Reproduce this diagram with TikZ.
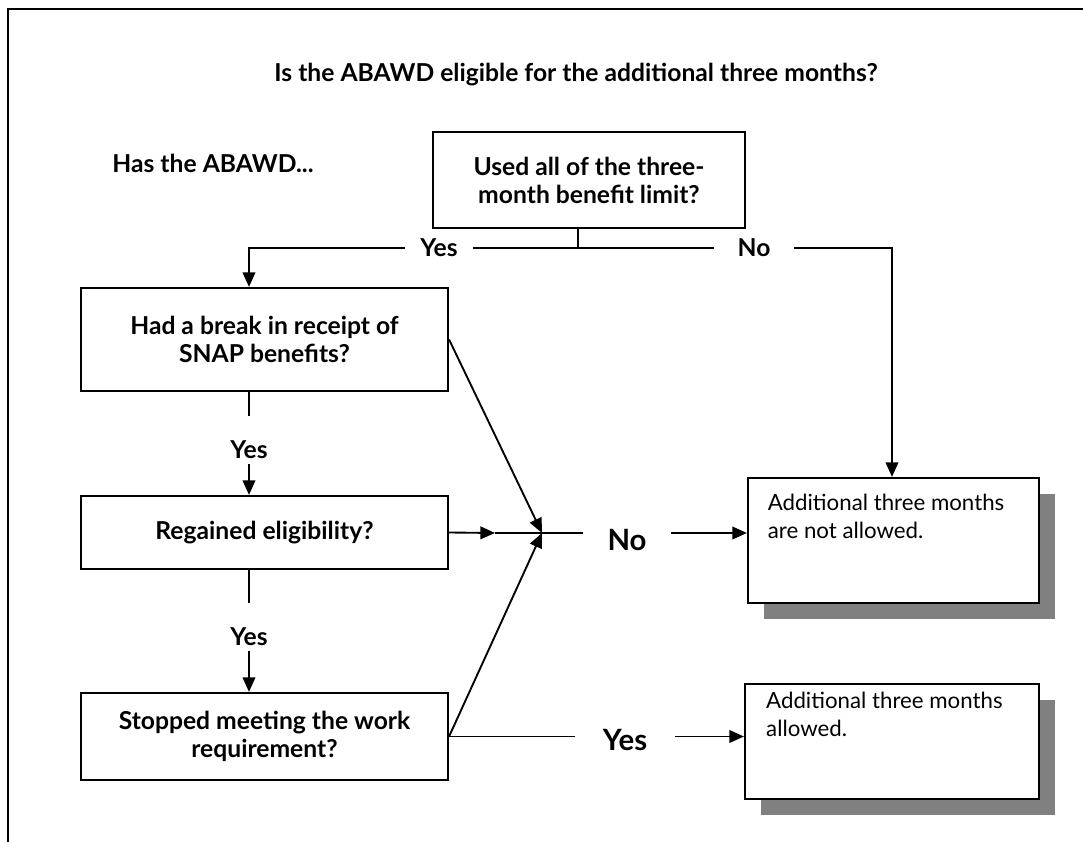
\documentclass[tikz,border=0pt]{standalone}
\usepackage{fontspec}
\setmainfont{Lato}
\usetikzlibrary{arrows.meta,shadows}

\begin{document}
\begin{tikzpicture}[x=0.75pt, y=-0.75pt, line width=1.4pt,
    question/.style={draw, line width=1.6pt, align=center, inner sep=0pt,
      font=\bfseries\fontsize{18.5}{21}\selectfont},
    outcome/.style={draw, line width=1.6pt, fill=white, inner sep=0pt,
      general shadow={fill=black!50, shadow xshift=12pt, shadow yshift=-12pt}},
    answer/.style={font=\bfseries\fontsize{18.5}{21}\selectfont, inner ysep=0pt},
    bigans/.style={font=\bfseries\fontsize{22}{24}\selectfont, inner ysep=0pt},
    result/.style={align=left, anchor=north west, inner sep=0pt,
      font=\fontsize{16.7}{21}\selectfont},
    arr/.style={-{Triangle[length=11pt, width=9.5pt]}}]
  \useasboundingbox (0,0) rectangle (1083,842);
  \draw[line width=1.8pt] (8,842) -- (8,9) -- (1083,9);

  \node[font=\bfseries\fontsize{18.5}{21}\selectfont] (title) at (576,75) {Is the ABAWD eligible for the additional three months?};
  \node[font=\bfseries\fontsize{18.5}{21}\selectfont] (intro) at (213,163) {Has the ABAWD...};

  \node[question, minimum width=234pt, minimum height=72pt] (qused) at (589,180) {Used all of the three-\\month benefit limit?};
  \node[question, minimum width=275.25pt, minimum height=77.25pt] (qbreak) at (264.5,339.5) {Had a break in receipt of\\SNAP benefits?};
  \node[question, minimum width=275.25pt, minimum height=54.75pt] (qregain) at (264.5,532.5) {Regained eligibility?};
  \node[question, minimum width=275.25pt, minimum height=65.25pt] (qstop) at (264.5,736.5) {Stopped meeting the work\\requirement?};

  \node[outcome, minimum width=218.25pt, minimum height=93.75pt] (rno) at (893.5,540.5) {};
  \node[outcome, minimum width=220.5pt, minimum height=86.25pt] (ryes) at (892,741.5) {};
  \node[result] (rnotext) at ([xshift=15pt, yshift=-12pt]rno.north west) {Additional three months\\are not allowed.};
  \node[result] (ryestext) at ([xshift=16pt, yshift=-6pt]ryes.north west) {Additional three months\\allowed.};

  \coordinate (split) at (578,248);
  \coordinate (lturn) at (249,248);
  \coordinate (rturn) at (892,248);
  \coordinate (join) at (495,533);
  \coordinate (merge) at (542,533);

  \node[answer, inner xsep=11pt] (yes1) at (439,248) {Yes};
  \node[answer, inner xsep=17pt] (no1) at (754,248) {No};
  \node[answer, inner xsep=0pt] (yes2) at (249,450) {Yes};
  \node[answer, inner xsep=0pt] (yes3) at (249,637) {Yes};
  \node[bigans, inner xsep=18pt] (no2) at (627,540) {No};
  \node[bigans, inner xsep=20pt] (yes4) at (625,740) {Yes};

  \draw (qused.south -| split) -- (split);
  \draw (split) -- (yes1.east);
  \draw[arr] (yes1.west) -- (lturn) -- (lturn |- qbreak.north);
  \draw (split) -- (no1.west);
  \draw[arr] (no1.east) -- (rturn) -- (rturn |- rno.north);

  \draw (qbreak.south -| lturn) -- ([yshift=18pt]yes2.north);
  \draw[arr] ([yshift=-3pt]yes2.south) -- (qregain.north -| lturn);
  \draw (qregain.south -| lturn) -- ([yshift=18pt]yes3.north);
  \draw[arr] ([yshift=-3pt]yes3.south) -- (qstop.north -| lturn);

  \draw[arr] (qregain.east) -- (join);
  \draw (join) -- (merge -| no2.west);
  \draw[arr] (qbreak.east) -- (merge);
  \draw[arr] (qstop.east) -- (merge);
  \draw[arr] (merge -| no2.east) -- (merge -| rno.west);

  \draw (qstop.east) -- (qstop.east -| yes4.west);
  \draw[arr] (qstop.east -| yes4.east) -- (qstop.east -| ryes.west);
\end{tikzpicture}
\end{document}
